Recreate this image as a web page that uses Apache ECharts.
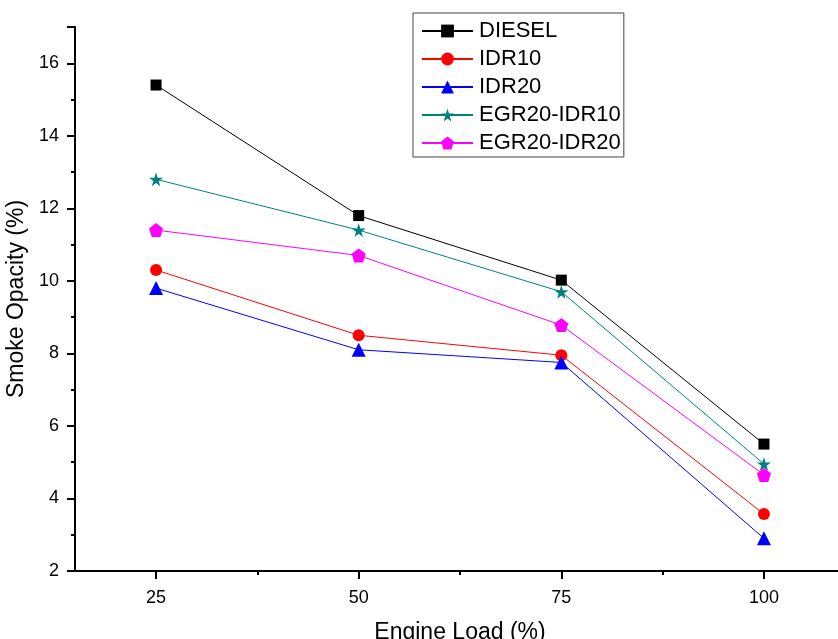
<!DOCTYPE html>
<html><head><meta charset="utf-8">
<script src="https://cdn.jsdelivr.net/npm/echarts@6/dist/echarts.min.js"></script>
<style>html,body{margin:0;padding:0;background:#fff}#c{width:838px;height:639px}</style>
</head><body><div id="c"></div>
<script>
const loads = [25, 50, 75, 100];
const diesel = [15.4, 11.8, 10.02, 5.5];
const idr10 = [10.3, 8.5, 7.95, 3.57];
const idr20 = [9.8, 8.1, 7.75, 2.9];
const egrIdr10 = [12.8, 11.4, 9.7, 4.95];
const egrIdr20 = [11.4, 10.7, 8.78, 4.65];
const xMajor = [25, 50, 75, 100];
const xMinor = [37.5, 62.5, 87.5];
const yMinor = [3, 5, 7, 9, 11, 13, 15, 17];

const FONT = '"Liberation Sans", Arial, sans-serif';
const star = 'path://M50,0 L61,35 L98,35 L68,57 L79,91 L50,70 L21,91 L32,57 L2,35 L39,35 Z';
const pent = 'path://M50,0 L97.6,34.5 L79.4,90.5 L20.6,90.5 L2.4,34.5 Z';

function pts(arr){ return loads.map((x,i)=>[x, arr[i]]); }
function ser(name, arr, color, symbol, size){
  return {name, type:'line', data:pts(arr), symbol, symbolSize:size,
    lineStyle:{color, width:1}, itemStyle:{color}, xAxisIndex:0, yAxisIndex:0, animation:false, z:3};
}
const chart = echarts.init(document.getElementById('c'));
const axisLine = {show:true, lineStyle:{color:'#000', width:2}};
chart.setOption({
  animation:false,
  grid:{left:75, top:27, right:-7, bottom:68, outerBoundsMode:'none', containLabel:false},
  legend:{orient:'vertical', left:413, top:13, padding:[7,3,3,8], itemGap:6,
    itemWidth:51, itemHeight:16, borderColor:'#444', borderWidth:1,
    textStyle:{fontFamily:FONT, fontSize:22, color:'#000', padding:[0,0,0,1]},
    data:['DIESEL','IDR10','IDR20','EGR20-IDR10','EGR20-IDR20']},
  xAxis:[
    {type:'value', min:15, max:110, position:'bottom',
     name:'Engine Load (%)', nameLocation:'middle', nameGap:50,
     nameTextStyle:{fontFamily:FONT, fontSize:23, color:'#000'},
     axisLine, splitLine:{show:false},
     axisTick:{show:true, customValues:xMajor, length:8, lineStyle:{color:'#000', width:2}},
     axisLabel:{customValues:xMajor, fontFamily:FONT, fontSize:18, color:'#000', margin:18}},
    {type:'value', min:15, max:110, position:'bottom', axisLine:{show:false}, splitLine:{show:false},
     axisTick:{show:true, customValues:xMinor, length:4, lineStyle:{color:'#000', width:2}},
     axisLabel:{show:false}}
  ],
  yAxis:[
    {type:'value', min:2, max:17, interval:2,
     name:'Smoke Opacity (%)', nameLocation:'middle', nameGap:39,
     nameTextStyle:{fontFamily:FONT, fontSize:23, color:'#000'},
     axisLine, splitLine:{show:false},
     axisTick:{show:true, length:8, lineStyle:{color:'#000', width:2}},
     axisLabel:{fontFamily:FONT, fontSize:18, color:'#000', margin:16,
       formatter:v=> (v>16 ? '' : String(v))}},
    {type:'value', min:2, max:17, position:'left', axisLine:{show:false}, splitLine:{show:false},
     axisTick:{show:true, customValues:yMinor, length:4, lineStyle:{color:'#000', width:2}},
     axisLabel:{show:false}}
  ],
  series:[
    ser('DIESEL', diesel, '#000000', 'rect', 11),
    ser('IDR10', idr10, '#ff0000', 'circle', 12),
    ser('IDR20', idr20, '#0000ff', 'triangle', 14),
    ser('EGR20-IDR10', egrIdr10, '#008080', star, 14),
    ser('EGR20-IDR20', egrIdr20, '#ff00ff', pent, 14)
  ]
});
</script></body></html>
